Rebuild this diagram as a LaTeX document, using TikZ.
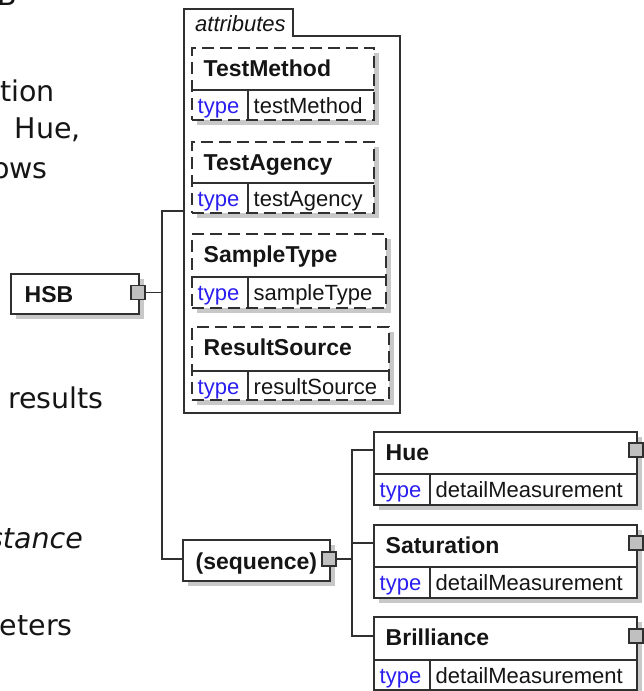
\documentclass[tikz,border=0pt]{standalone}
\usepackage{fontspec}
\setmainfont{Liberation Sans}
\newfontfamily\docfont{DejaVu Sans}
\definecolor{lnc}{HTML}{303030}
\definecolor{shd}{HTML}{C8C8C8}
\definecolor{sqfill}{HTML}{C0C0C0}
\definecolor{typeblue}{HTML}{2A1EF0}
\definecolor{txt}{HTML}{151515}
\tikzset{
  ln/.style={draw=lnc, line width=1.3pt},
  xbox/.style={ln, fill=white, inner sep=0pt, outer sep=0pt, anchor=north west},
  dashbox/.style={dash pattern=on 12pt off 6pt},
  solidbox/.style={solid},
  nametext/.style={inner sep=0pt, anchor=base west, text=txt, font=\fontsize{23}{27}\selectfont\bfseries},
  typetext/.style={inner sep=0pt, anchor=base west, text=typeblue, font=\fontsize{22}{26}\selectfont},
  valtext/.style={inner sep=0pt, anchor=base west, text=txt, font=\fontsize{22}{26}\selectfont},
  doctext/.style={inner sep=0pt, anchor=base east, text=txt, font=\docfont\fontsize{28.5}{34}\selectfont},
  expander/.style={ln, fill=sqfill, inner sep=0pt, minimum width=14pt, minimum height=14pt},
  conn/.style={ln}
}
% #1 name, #2 left x, #3 top y, #4 divider y, #5 bottom y, #6 right x, #7 label, #8 type value, #9 border style
\newcommand\XsdBox[9]{%
  \fill[shd] ({#2+5},{#3+5}) rectangle ({#6+5},{#5+5});
  \node[xbox,#9,minimum width={#6-#2},minimum height={#5-#3}] (#1) at (#2,#3) {};
  \draw[ln] (#2,#4) -- (#6,#4);
  \draw[ln] ({#2+56},#4) -- ({#2+56},#5);
  \node[nametext] (#1-n) at ({#2+11.5},{#3+28.5}) {#7};
  \node[typetext] (#1-t) at ({#2+5.5},{#4+23}) {type};
  \node[valtext] (#1-v) at ({#2+61.5},{#4+23}) {#8};
}
\begin{document}
\begin{tikzpicture}[x=1pt,y=-1pt]
\useasboundingbox (0,0) rectangle (643,691);

% background document text fragments
\node[doctext] (d1) at (17,5) {B};
\node[doctext] (d2) at (55,101) {tion};
\node[doctext] (d3) at (81,138) {Hue,};
\node[doctext] (d4) at (48,178) {ows};
\node[doctext] (d5) at (104,408) {results};
\node[doctext, font=\docfont\itshape\fontsize{28.5}{34}\selectfont] (d6) at (83,548) {stance};
\node[doctext] (d7) at (73,635) {eters};

% attributes container
\draw[ln, fill=white] (184,413) -- (184,9) -- (293,9) -- (293,36) -- (400,36) -- (400,413) -- cycle;
\node[inner sep=0pt, anchor=base west, text=txt, font=\fontsize{22}{26}\selectfont\itshape] (attrlbl) at (195,31.5) {attributes};
\coordinate (attrin) at (184,211);

\XsdBox{tm}{192}{48}{90}{120}{374}{TestMethod}{testMethod}{dashbox}
\XsdBox{ta}{192}{142}{183}{213}{374}{TestAgency}{testAgency}{dashbox}
\XsdBox{st}{192}{234}{277}{308}{386}{SampleType}{sampleType}{dashbox}
\XsdBox{rs}{192}{327}{371}{400}{389}{ResultSource}{resultSource}{dashbox}

% HSB root
\fill[shd] (16,279) rectangle (144,319);
\node[xbox, minimum width=128pt, minimum height=40pt] (hsb) at (11,274) {};
\node[nametext] (hsb-n) at (24.5,302.5) {HSB};
\node[expander] (hsbsq) at (138,292.5) {};

% sequence
\fill[shd] (188,545) rectangle (335,586);
\node[xbox, minimum width=147pt, minimum height=41pt] (seq) at (183,540) {};
\node[nametext] (seq-n) at (195.5,569) {(sequence)};
\node[expander] (seqsq) at (329,559) {};

% element boxes
\XsdBox{hue}{374}{432}{474}{505}{637}{Hue}{detailMeasurement}{solidbox}
\XsdBox{sat}{374}{525}{567}{598}{637}{Saturation}{detailMeasurement}{solidbox}
\XsdBox{bri}{374}{617}{660}{690}{637}{Brilliance}{detailMeasurement}{solidbox}
\node[expander] (huesq) at (636,450) {};
\node[expander] (satsq) at (636,543) {};
\node[expander] (brisq) at (636,636) {};

% connectors
\coordinate (spA) at (162,0);
\coordinate (spB) at (352,0);
\coordinate (seqin) at (183,559);
\coordinate (huein) at (374,450);
\coordinate (satin) at (374,543);
\coordinate (briin) at (374,636);
\draw[conn] (hsbsq.east) -- (hsbsq.east -| spA);
\draw[conn] (attrin) -- (attrin -| spA) -- (seqin -| spA) -- (seqin);
\draw[conn] (seqsq.east) -- (seqsq.east -| spB);
\draw[conn] (huein) -- (huein -| spB) -- (briin -| spB) -- (briin);
\draw[conn] (satin) -- (satin -| spB);
\end{tikzpicture}
\end{document}
